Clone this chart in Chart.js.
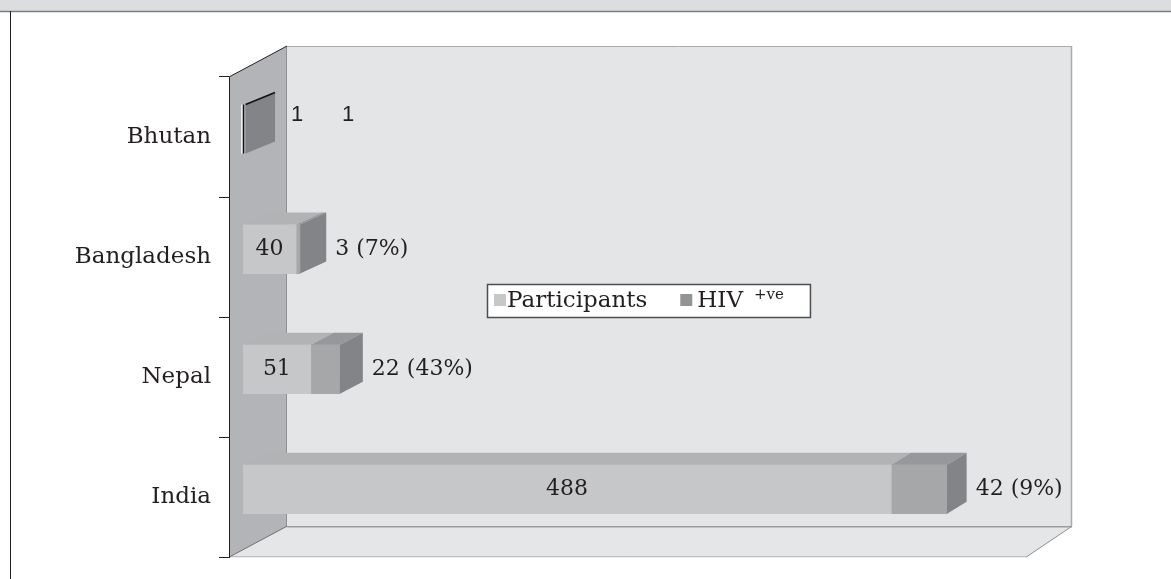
<!DOCTYPE html>
<html>
<head>
<meta charset="utf-8">
<script src="https://cdn.jsdelivr.net/npm/chart.js@4.4.1/dist/chart.umd.min.js"></script>
<style>
  html, body { margin: 0; padding: 0; background: #fff; }
</style>
</head>
<body>
<canvas id="myChart" width="1171" height="579"></canvas>
<script>
// data, top row first
const countries = ["Bhutan", "Bangladesh", "Nepal", "India"];
const participants = [1, 40, 51, 488];
const hivPositive = [1, 3, 22, 42];
const hivPercent = [null, 7, 43, 9];
const seriesNames = ["Participants", "HIV +ve"];
const valueMax = 600;

// face colours
const frontColors = ["#c6c7c9", "#a6a7a9"];
const topColors = ["#b2b3b5", "#97989b"];
const sideColor = "#838488";
const legendColors = ["#c6c7c9", "#939496"];
const textColor = "#231f20";

// fake 3d: bar offset/depth and wall depth (bars further up look deeper)
const barShift = { x: 14, y: -8 };
const barDepth = { xNear: 18, xFar: 13, y: 12 };
const wallDepth = { left: 58, right: 46, y: 31 };

function poly(ctx, pts, fill, stroke) {
  ctx.beginPath();
  ctx.moveTo(pts[0][0], pts[0][1]);
  for (let i = 1; i < pts.length; i++) ctx.lineTo(pts[i][0], pts[i][1]);
  ctx.closePath();
  if (fill) { ctx.fillStyle = fill; ctx.fill(); }
  if (stroke) { ctx.strokeStyle = stroke; ctx.lineWidth = 1; ctx.stroke(); }
}

function line(ctx, x1, y1, x2, y2, color, w) {
  ctx.beginPath();
  ctx.moveTo(x1, y1);
  ctx.lineTo(x2, y2);
  ctx.strokeStyle = color;
  ctx.lineWidth = w || 1;
  ctx.stroke();
}

const wallsPlugin = {
  id: "walls",
  beforeDraw(chart) {
    const ctx = chart.ctx;
    const a = chart.chartArea;
    const L = a.left, R = a.right, T = a.top, B = a.bottom;
    const bl = L + wallDepth.left, br = R + wallDepth.right;
    const bt = T - wallDepth.y, bb = B - wallDepth.y;
    ctx.save();
    // page frame (cut off title band)
    ctx.fillStyle = "#dcdddf";
    ctx.fillRect(0, 0, chart.width, 11);
    line(ctx, 0, 11.5, chart.width, 11.5, "#7c7d7f", 1.5);
    line(ctx, 10.5, 11, 10.5, chart.height, textColor, 1);
    // back wall
    ctx.fillStyle = "#e4e5e7";
    ctx.fillRect(bl, bt, br - bl, bb - bt);
    line(ctx, bl, bt + 0.5, br, bt + 0.5, "#a9aaac", 1);
    line(ctx, br - 0.5, bt, br - 0.5, bb, "#a9aaac", 1.5);
    // side wall
    poly(ctx, [[L, T], [bl, bt], [bl, bb], [L, B]], "#b3b4b7");
    line(ctx, bl - 0.5, bt, bl - 0.5, bb, "#8e8f92", 1);
    line(ctx, L, T, bl, bt, textColor, 1);
    // floor
    poly(ctx, [[L, B], [bl, bb], [br, bb], [R, B]], "#e5e6e8");
    line(ctx, bl, bb + 0.5, br, bb + 0.5, "#9c9d9f", 1.5);
    line(ctx, L, B - 0.5, R, B - 0.5, "#b4b5b7", 1);
    line(ctx, R, B, br, bb, "#8e8f92", 1);
    line(ctx, L, B, bl, bb, "#6d6e70", 1);
    ctx.restore();
  },
  beforeDatasetsDraw(chart) {
    chart.ctx.save();
    chart.ctx.translate(barShift.x, barShift.y);
  },
  afterDatasetsDraw(chart) {
    const ctx = chart.ctx;
    const a = chart.chartArea;
    ctx.restore();
    ctx.save();
    const metas = [chart.getDatasetMeta(0), chart.getDatasetMeta(1)];
    countries.forEach((c, i) => {
      let boxRight = 0, boxTop = 0, boxBottom = 0;
      const rowY = metas[0].data[i].y;
      const dx = barDepth.xNear + barDepth.xFar * (a.bottom - rowY) / (a.bottom - a.top);
      const dy = barDepth.y;
      metas.forEach((meta, d) => {
        const bar = meta.data[i];
        const left = Math.min(bar.base, bar.x) + barShift.x;
        const right = Math.max(bar.base, bar.x) + barShift.x;
        const top = bar.y - bar.height / 2 + barShift.y;
        const bottom = bar.y + bar.height / 2 + barShift.y;
        poly(ctx, [[left, top], [left + dx, top - dy],
          [right + dx, top - dy], [right, top]], topColors[d]);
        if (d === metas.length - 1) {
          poly(ctx, [[right, top], [right + dx, top - dy],
            [right + dx, bottom - dy], [right, bottom]], sideColor);
        }
        boxRight = right; boxTop = top; boxBottom = bottom;
      });

      // value labels
      const pBar = metas[0].data[i];
      const pLeft = pBar.base + barShift.x, pRight = pBar.x + barShift.x;
      const yMid = (boxTop + boxBottom) / 2;
      ctx.fillStyle = textColor;
      ctx.textBaseline = "middle";
      if (pRight - pLeft > 40) {
        ctx.font = "22px 'DejaVu Serif'";
        ctx.textAlign = "center";
        ctx.fillText(String(participants[i]), (pLeft + pRight) / 2, yMid);
        let txt = String(hivPositive[i]);
        if (hivPercent[i] !== null) txt += " (" + hivPercent[i] + "%)";
        ctx.textAlign = "left";
        ctx.fillText(txt, boxRight + dx + 9, yMid);
      } else {
        // too thin, both numbers go beside the box
        line(ctx, boxRight, boxTop, boxRight + dx, boxTop - dy, "#111111", 1.5);
        ctx.font = "22px 'Liberation Sans'";
        ctx.textAlign = "left";
        ctx.fillText(String(participants[i]), boxRight + dx + 16, boxTop + 10);
        ctx.fillText(String(hivPositive[i]), boxRight + dx + 67, boxTop + 10);
        // light edge on the thin front face
        line(ctx, pLeft - 1, boxTop, pLeft - 1, boxBottom, "#ffffff", 1.5);
        line(ctx, pLeft + 0.5, boxTop, pLeft + 0.5, boxBottom, "#111111", 1.5);
      }
    });
    ctx.restore();
  },
  afterDraw(chart) {
    // legend box sitting on the back wall
    const ctx = chart.ctx;
    const a = chart.chartArea;
    const x0 = a.left + 258, y0 = a.top + 207;
    const base = y0 + 23;
    ctx.save();
    ctx.font = "23px 'DejaVu Serif'";
    const w1 = ctx.measureText(seriesNames[0]).width;
    const parts = seriesNames[1].split(" ");
    const w2 = ctx.measureText(parts[0]).width;
    ctx.font = "15px 'DejaVu Serif'";
    const w3 = ctx.measureText(parts[1]).width;
    const s2 = x0 + 20 + w1 + 33;
    const t2 = s2 + 17;
    const sup = t2 + w2 + 11;
    const boxW = sup + w3 + 26 - x0;
    ctx.fillStyle = "#ffffff";
    ctx.fillRect(x0, y0, boxW, 33);
    ctx.strokeStyle = "#4d4e50";
    ctx.lineWidth = 1.5;
    ctx.strokeRect(x0 + 0.5, y0 + 0.5, boxW, 33);
    ctx.fillStyle = legendColors[0];
    ctx.fillRect(x0 + 7, y0 + 10, 12, 12);
    ctx.fillStyle = legendColors[1];
    ctx.fillRect(s2, y0 + 10, 12, 12);
    ctx.fillStyle = textColor;
    ctx.textBaseline = "alphabetic";
    ctx.textAlign = "left";
    ctx.font = "23px 'DejaVu Serif'";
    ctx.fillText(seriesNames[0], x0 + 20, base);
    ctx.fillText(parts[0], t2, base);
    ctx.font = "15px 'DejaVu Serif'";
    ctx.fillText(parts[1], sup, base - 8);
    ctx.restore();
  }
};

const ctx = document.getElementById("myChart").getContext("2d");
const myChart = new Chart(ctx, {
  type: "bar",
  data: {
    labels: countries,
    datasets: [
      {
        label: seriesNames[0],
        data: participants,
        backgroundColor: frontColors[0],
        borderWidth: 0,
        barThickness: 49,
      },
      {
        label: seriesNames[1],
        data: hivPositive,
        backgroundColor: frontColors[1],
        borderWidth: 0,
        barThickness: 49,
      },
    ],
  },
  options: {
    indexAxis: "y",
    responsive: false,
    animation: false,
    devicePixelRatio: 1,
    layout: { padding: { top: 77, right: 145, bottom: 18, left: 0 } },
    scales: {
      x: { stacked: true, display: false, min: 0, max: valueMax },
      y: {
        stacked: true,
        grid: { display: true, drawOnChartArea: false, tickLength: 10, color: textColor, offset: true },
        border: { display: true, color: textColor, width: 1 },
        ticks: { color: textColor, font: { family: "DejaVu Serif", size: 23 }, padding: 8 },
        afterFit: (scale) => { scale.width = 229; },
      },
    },
    plugins: {
      legend: { display: false },
      tooltip: { enabled: false },
    },
  },
  plugins: [wallsPlugin],
});
</script>
</body>
</html>
